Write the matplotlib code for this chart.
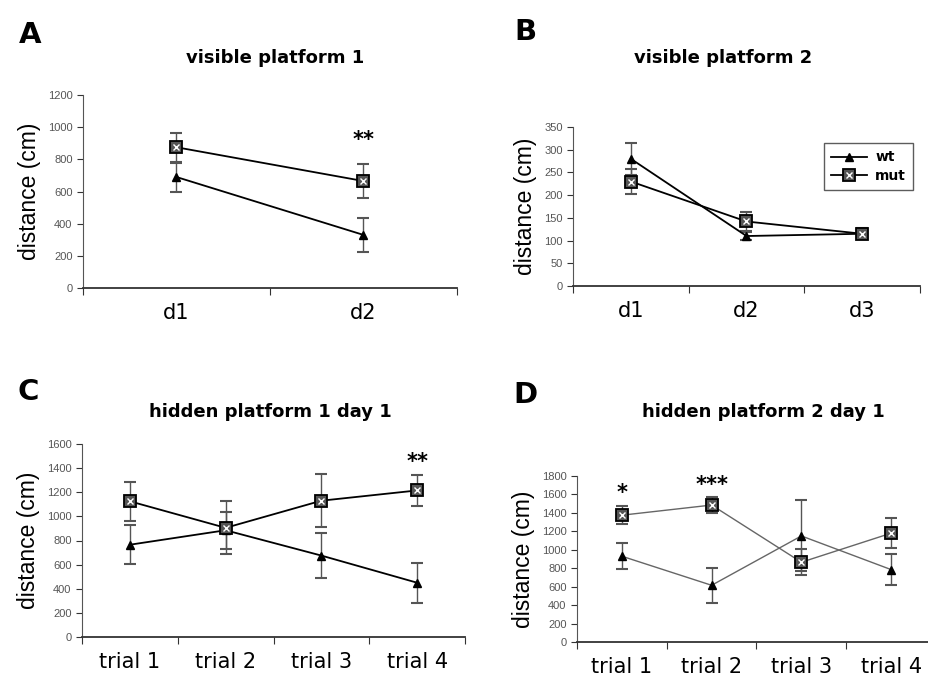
import matplotlib.pyplot as plt
from matplotlib.legend_handler import HandlerTuple
from matplotlib.lines import Line2D

# ==========================================
# DATA
# ==========================================
A_CATS = ["d1", "d2"]
A_WT = [690, 330]
A_WT_ERR = [90, 105]
A_MUT = [875, 665]
A_MUT_ERR = [90, 105]

B_CATS = ["d1", "d2", "d3"]
B_WT = [280, 110, 115]
B_WT_ERR = [35, 8, 10]
B_MUT = [230, 142, 115]
B_MUT_ERR = [28, 20, 12]

C_CATS = ["trial 1", "trial 2", "trial 3", "trial 4"]
C_WT = [765, 885, 675, 450]
C_WT_ERR = [160, 155, 185, 165]
C_MUT = [1125, 905, 1130, 1215]
C_MUT_ERR = [160, 220, 220, 130]

D_CATS = ["trial 1", "trial 2", "trial 3", "trial 4"]
D_WT = [930, 615, 1150, 785]
D_WT_ERR = [140, 190, 385, 165]
D_MUT = [1375, 1485, 865, 1180]
D_MUT_ERR = [95, 85, 140, 165]

plt.rcParams["font.family"] = ["DejaVu Sans"]

W, H = 929, 677
fig = plt.figure(figsize=(W / 100, H / 100), dpi=100)


def px_axes(left, right, top, bottom):
    return fig.add_axes([left / W, 1 - bottom / H, (right - left) / W, (bottom - top) / H])


def mut_handles(line_color="black", lw=1.3):
    sq = Line2D([], [], color=line_color, lw=lw, marker="s", ms=8, mfc="#555555",
                mec="black", mew=1.3)
    xx = Line2D([], [], ls="none", marker="x", ms=5, mec="white", mew=1.0)
    return sq, xx


def draw_panel(ax, cats, wt, wt_err, mut, mut_err, ymax, ystep, line_color="black", lw=1.3):
    x = list(range(1, len(cats) + 1))
    ax.errorbar(x, wt, yerr=wt_err, fmt="none", ecolor="#555555", elinewidth=1.0,
                capsize=4, capthick=1.5, zorder=2)
    ax.errorbar(x, mut, yerr=mut_err, fmt="none", ecolor="#555555", elinewidth=1.0,
                capsize=4, capthick=1.5, zorder=2)
    ax.plot(x, wt, color=line_color, lw=lw, marker="^", ms=6, mfc="black", mec="black", zorder=3)
    ax.plot(x, mut, color=line_color, lw=lw, marker="s", ms=8, mfc="#555555", mec="black",
            mew=1.3, zorder=3)
    ax.plot(x, mut, ls="none", marker="x", ms=5, mec="white", mew=1.0, zorder=4)

    ax.set_xlim(0.5, len(cats) + 0.5)
    ax.set_ylim(0, ymax)
    ax.set_xticks([i + 0.5 for i in range(len(cats) + 1)])
    ax.set_xticklabels([])
    ax.set_xticks(x, minor=True)
    ax.set_xticklabels(cats, minor=True, fontsize=15)
    ax.tick_params(axis="x", which="minor", length=0, pad=11)
    ax.tick_params(axis="x", which="major", length=5, color="#333333")
    ax.set_yticks(range(0, ymax + 1, ystep))
    ax.tick_params(axis="y", length=4, labelsize=8, labelcolor="#555555", color="#333333")
    for lab in ax.get_yticklabels():
        lab.set_family("Liberation Sans")
    ax.spines["top"].set_visible(False)
    ax.spines["right"].set_visible(False)
    ax.spines["left"].set_color("#555555")
    ax.spines["bottom"].set_color("#333333")
    ax.spines["bottom"].set_linewidth(1.3)
    ax.set_ylabel("distance (cm)", fontsize=16.5, family="Liberation Sans", labelpad=5)
    ax.set_facecolor("none")


# Panel A
axA = px_axes(83, 457, 95, 288)
draw_panel(axA, A_CATS, A_WT, A_WT_ERR, A_MUT, A_MUT_ERR, 1200, 200)
axA.text(2, 920, "**", ha="center", va="center", fontsize=15, fontweight="bold")

# Panel B
axB = px_axes(573, 920, 127, 286)
draw_panel(axB, B_CATS, B_WT, B_WT_ERR, B_MUT, B_MUT_ERR, 350, 50)
h_wt = Line2D([], [], color="black", lw=1.3, marker="^", ms=6, mfc="black", mec="black")
leg = axB.legend([h_wt, mut_handles()], ["wt", "mut"],
                 handler_map={tuple: HandlerTuple(ndivide=1, pad=0)},
                 loc="upper right", bbox_to_anchor=(1.0, 0.94), frameon=True, fancybox=False,
                 edgecolor="#333333", prop={"weight": "bold", "size": 10},
                 handlelength=2.6, borderpad=0.5, labelspacing=0.3, handletextpad=0.6)
leg.get_frame().set_linewidth(1.0)

# Panel C
axC = px_axes(82, 465, 444, 637)
draw_panel(axC, C_CATS, C_WT, C_WT_ERR, C_MUT, C_MUT_ERR, 1600, 200)
axC.text(4, 1450, "**", ha="center", va="center", fontsize=15, fontweight="bold")

# Panel D (axis runs to the right edge in the original)
axD = px_axes(577, 936, 476, 642)
draw_panel(axD, D_CATS, D_WT, D_WT_ERR, D_MUT, D_MUT_ERR, 1800, 200, line_color="#666666", lw=1.0)
axD.text(1, 1616, "*", ha="center", va="center", fontsize=15, fontweight="bold")
axD.text(2, 1702, "***", ha="center", va="center", fontsize=15, fontweight="bold")

# Titles and panel letters
fig.text(275 / W, 1 - 58 / H, "visible platform 1", ha="center", va="center",
         fontsize=13, fontweight="bold")
fig.text(723 / W, 1 - 58 / H, "visible platform 2", ha="center", va="center",
         fontsize=13, fontweight="bold")
fig.text(270 / W, 1 - 412 / H, "hidden platform 1 day 1", ha="center", va="center",
         fontsize=13, fontweight="bold")
fig.text(763 / W, 1 - 412 / H, "hidden platform 2 day 1", ha="center", va="center",
         fontsize=13, fontweight="bold")

for letter, lx, ly in [("A", 30, 35), ("B", 525, 32), ("C", 28, 392), ("D", 525, 395)]:
    fig.text(lx / W, 1 - ly / H, letter, ha="center", va="center", fontsize=21, fontweight="bold")

fig.savefig("out.png", dpi=100)
